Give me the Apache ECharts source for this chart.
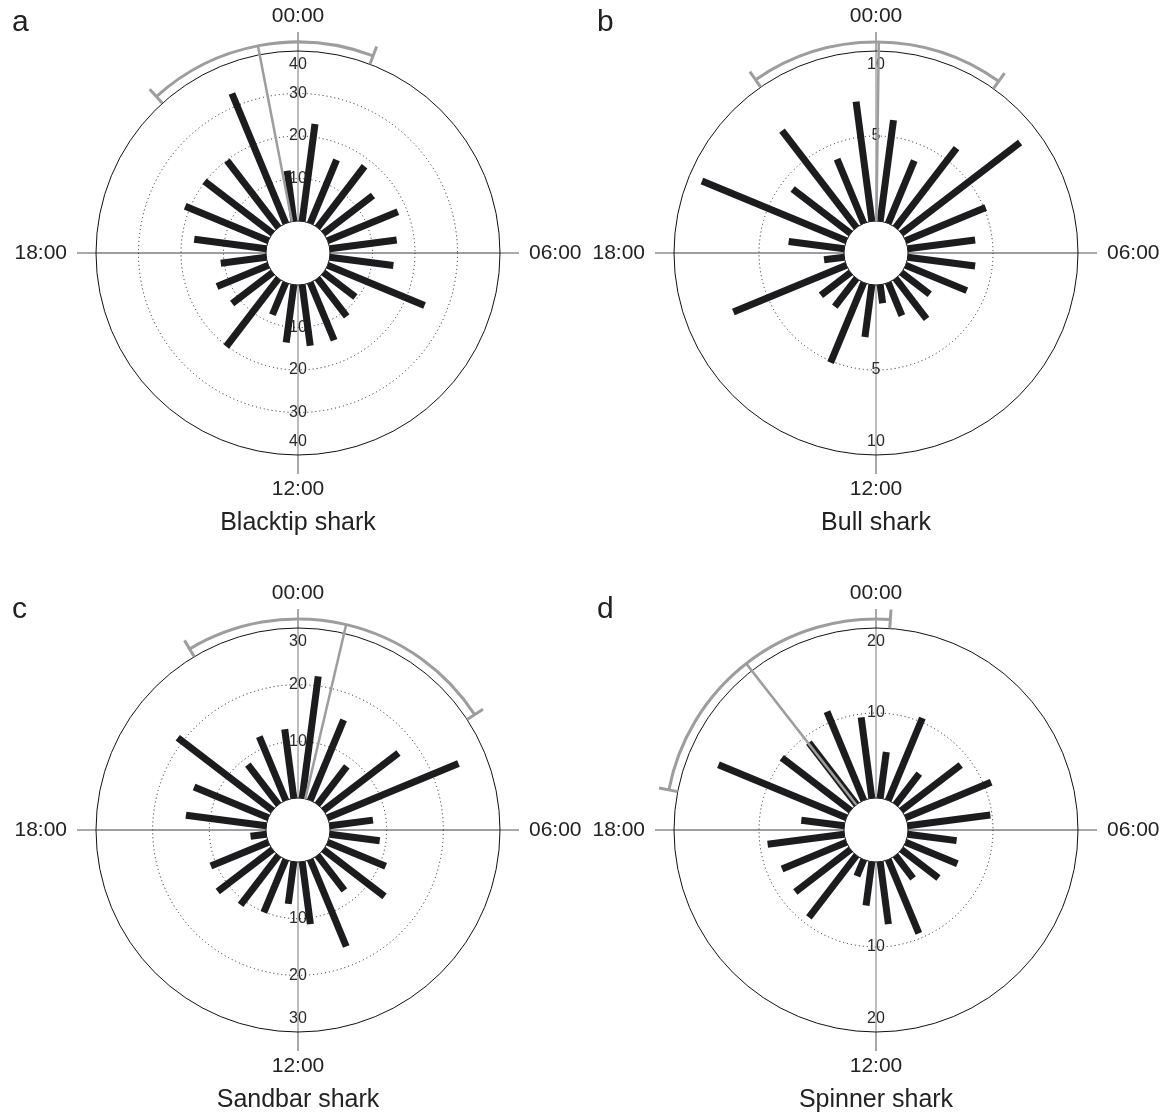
<!DOCTYPE html>
<html>
<head>
<meta charset="utf-8">
<script src="https://cdn.jsdelivr.net/npm/echarts/dist/echarts.min.js"></script>
<style>
  html, body { margin: 0; padding: 0; background: #fff; }
  #chart { width: 1169px; height: 1115px; }
</style>
</head>
<body>
<div id="chart"></div>
<script>
// ----------------------
// DATA
// ----------------------
// hourly bins, plotted at the middle of each hour
const hourBins = [
  0.5, 1.5, 2.5, 3.5, 4.5, 5.5, 6.5, 7.5, 8.5, 9.5, 10.5, 11.5,
  12.5, 13.5, 14.5, 15.5, 16.5, 17.5, 18.5, 19.5, 20.5, 21.5, 22.5, 23.5,
];
const hourTicks = [0, 6, 12, 18];
const hourLabels = ["00:00", "06:00", "12:00", "18:00"];

const blacktip = [
  23.1, 16.2, 18.2, 14.7, 17.9, 15.9, 15.1, 24.7, 9.5, 11.3, 14.7, 14.5,
  13.7, 8.2, 20.2, 12.0, 13.1, 10.8, 17.1, 21.2, 20.2, 19.9, 33.1, 12.0,
];
const bull = [
  6.0, 4.0, 5.9, 8.8, 5.1, 4.0, 4.0, 3.9, 2.1, 3.0, 2.1, 1.1,
  3.1, 5.1, 2.1, 2.2, 7.2, 1.2, 3.3, 9.2, 4.3, 7.2, 4.1, 7.1,
];
const sandbar = [
  21.7, 15.4, 8.5, 16.7, 25.0, 7.7, 8.9, 11.1, 13.6, 7.8, 16.6, 11.1,
  7.5, 10.1, 11.0, 12.2, 11.0, 2.8, 14.3, 14.2, 21.1, 8.9, 12.2, 12.3,
];
const spinner = [
  5.5, 10.5, 4.6, 8.8, 10.9, 9.8, 5.8, 6.6, 5.5, 3.4, 9.4, 7.4,
  5.2, 2.1, 9.2, 8.2, 8.2, 9.1, 5.1, 16.3, 10.2, 9.2, 11.3, 9.6,
];

const species = ["Blacktip shark", "Bull shark", "Sandbar shark", "Spinner shark"];
const panelLetters = ["a", "b", "c", "d"];
const radialMax = [40, 10, 30, 20];
const radialStep = [10, 5, 10, 10];

// mean direction and its spread (hours)
const meanHour = [23.27, 0.05, 0.88, 21.47];
const spreadFrom = [21.19, 21.68, 21.94, 18.73];
const spreadTo = [1.39, 2.37, 3.79, 0.26];

// ----------------------
// LAYOUT
// ----------------------
const FONT = "'Liberation Sans', Arial, Helvetica, sans-serif";
const centers = [[298, 253], [876, 253], [298, 830], [876, 830]];
const letterPos = [[12, 8], [597, 8], [12, 595], [597, 595]];
const ringRadius = [32, 202];

const panels = [blacktip, bull, sandbar, spinner];

function hourLabel(v) {
  const i = hourTicks.indexOf(v);
  return i < 0 ? "" : hourLabels[i];
}

// dotted rings only between the hole and the outer circle
function ringColors(k) {
  const n = radialMax[k] / radialStep[k] + 1;
  const colors = [];
  for (let i = 0; i < n; i++) {
    colors.push(i === 0 || i === n - 1 ? "rgba(0,0,0,0)" : "#1a1a1a");
  }
  return colors;
}

// ----------------------
// RENDERERS
// ----------------------
function renderBar(params, api) {
  const h = api.value(1);
  const start = api.coord([0, h]);
  const end = api.coord([api.value(0), h]);
  return {
    type: "line",
    shape: { x1: start[0], y1: start[1], x2: end[0], y2: end[1] },
    style: { stroke: "#1c1c1f", lineWidth: 7, lineCap: "butt" },
  };
}

function renderSpread(params, api, k) {
  const cs = params.coordSys;
  const dirOf = (h) => {
    const p = api.coord([radialMax[k], h]);
    return Math.atan2(p[1] - cs.cy, p[0] - cs.cx);
  };
  const at = (a, r) => [cs.cx + r * Math.cos(a), cs.cy + r * Math.sin(a)];

  const rArc = cs.r + 9;
  const a0 = dirOf(spreadFrom[k]);
  let a1 = dirOf(spreadTo[k]);
  if (a1 < a0) a1 += 2 * Math.PI;
  const am = dirOf(meanHour[k]);

  const base = api.coord([0, meanHour[k]]);
  const tip = at(am, rArc);
  const style = { stroke: "#9d9d9d", lineWidth: 3, fill: "none", lineCap: "butt" };

  const cap = (a) => {
    const p = at(a, rArc - 9);
    const q = at(a, rArc + 10);
    return { type: "line", shape: { x1: p[0], y1: p[1], x2: q[0], y2: q[1] }, style };
  };

  return {
    type: "group",
    children: [
      {
        type: "arc",
        shape: { cx: cs.cx, cy: cs.cy, r: rArc, startAngle: a0, endAngle: a1, clockwise: true },
        style,
      },
      cap(a0),
      cap(a1),
      {
        type: "line",
        shape: { x1: base[0], y1: base[1], x2: tip[0], y2: tip[1] },
        style: Object.assign({}, style, { lineWidth: 2.5 }),
      },
    ],
  };
}

// ----------------------
// OPTION
// ----------------------
const polar = [];
const angleAxis = [];
const radiusAxis = [];
const series = [];
const title = [];

panels.forEach((values, k) => {
  const c = centers[k];
  const up = 2 * k;
  const down = 2 * k + 1;
  const max = radialMax[k];

  // two polars on the same spot: one for the rose, one for the lower radial labels
  polar.push({ center: c, radius: ringRadius }, { center: c, radius: ringRadius });

  angleAxis.push(
    {
      polarIndex: up,
      type: "value",
      min: 0,
      max: 24,
      interval: 6,
      startAngle: 90,
      clockwise: true,
      axisLine: { show: true, lineStyle: { color: "#111", width: 1 } },
      axisTick: { show: true, inside: false, length: 19, lineStyle: { color: "#555", width: 1 } },
      axisLabel: {
        show: true,
        margin: 24,
        padding: [0, 5],
        fontSize: 21,
        color: "#222",
        fontFamily: FONT,
        formatter: hourLabel,
      },
      splitLine: { show: true, lineStyle: { color: ["#7a7a7a", "#3c3c3c"], width: 1 } },
    },
    {
      polarIndex: down,
      type: "value",
      min: 0,
      max: 24,
      startAngle: 270,
      clockwise: true,
      show: false,
    }
  );

  const radialLabel = {
    show: true,
    margin: 0,
    align: "center",
    verticalAlign: "middle",
    lineHeight: 27,
    fontSize: 16,
    color: "#2a2a2a",
    fontFamily: FONT,
  };

  radiusAxis.push(
    {
      polarIndex: up,
      type: "value",
      min: 0,
      max: max,
      interval: radialStep[k],
      axisLine: { show: false },
      axisTick: { show: false },
      axisLabel: Object.assign({}, radialLabel, {
        formatter: (v) => (v === 0 ? "" : v === max ? "\n" + v : String(v)),
      }),
      splitLine: { show: true, lineStyle: { color: ringColors(k), type: [1, 3], width: 1 } },
    },
    {
      polarIndex: down,
      type: "value",
      min: 0,
      max: max,
      interval: radialStep[k],
      axisLine: { show: false },
      axisTick: { show: false },
      axisLabel: Object.assign({}, radialLabel, {
        formatter: (v) => (v === 0 ? "" : v === max ? v + "\n" : String(v)),
      }),
      splitLine: { show: false },
    }
  );

  series.push(
    {
      type: "custom",
      coordinateSystem: "polar",
      polarIndex: up,
      silent: true,
      z: 3,
      data: hourBins.map((h, i) => [values[i], h]),
      renderItem: renderBar,
    },
    {
      type: "custom",
      coordinateSystem: "polar",
      polarIndex: up,
      silent: true,
      z: 4,
      data: [[max, meanHour[k]]],
      renderItem: (params, api) => renderSpread(params, api, k),
    }
  );

  title.push(
    {
      text: species[k],
      left: c[0],
      top: c[1] + 258,
      textAlign: "center",
      padding: 0,
      textStyle: { fontSize: 25, fontWeight: "normal", color: "#222", fontFamily: FONT },
    },
    {
      text: panelLetters[k],
      left: letterPos[k][0],
      top: letterPos[k][1],
      padding: 0,
      textStyle: { fontSize: 30, fontWeight: "normal", color: "#222", fontFamily: FONT },
    }
  );
});

const chart = echarts.init(document.getElementById("chart"), null, { renderer: "canvas" });

chart.setOption({
  backgroundColor: "#fff",
  animation: false,
  title: title,
  polar: polar,
  angleAxis: angleAxis,
  radiusAxis: radiusAxis,
  series: series,
});
</script>
</body>
</html>
